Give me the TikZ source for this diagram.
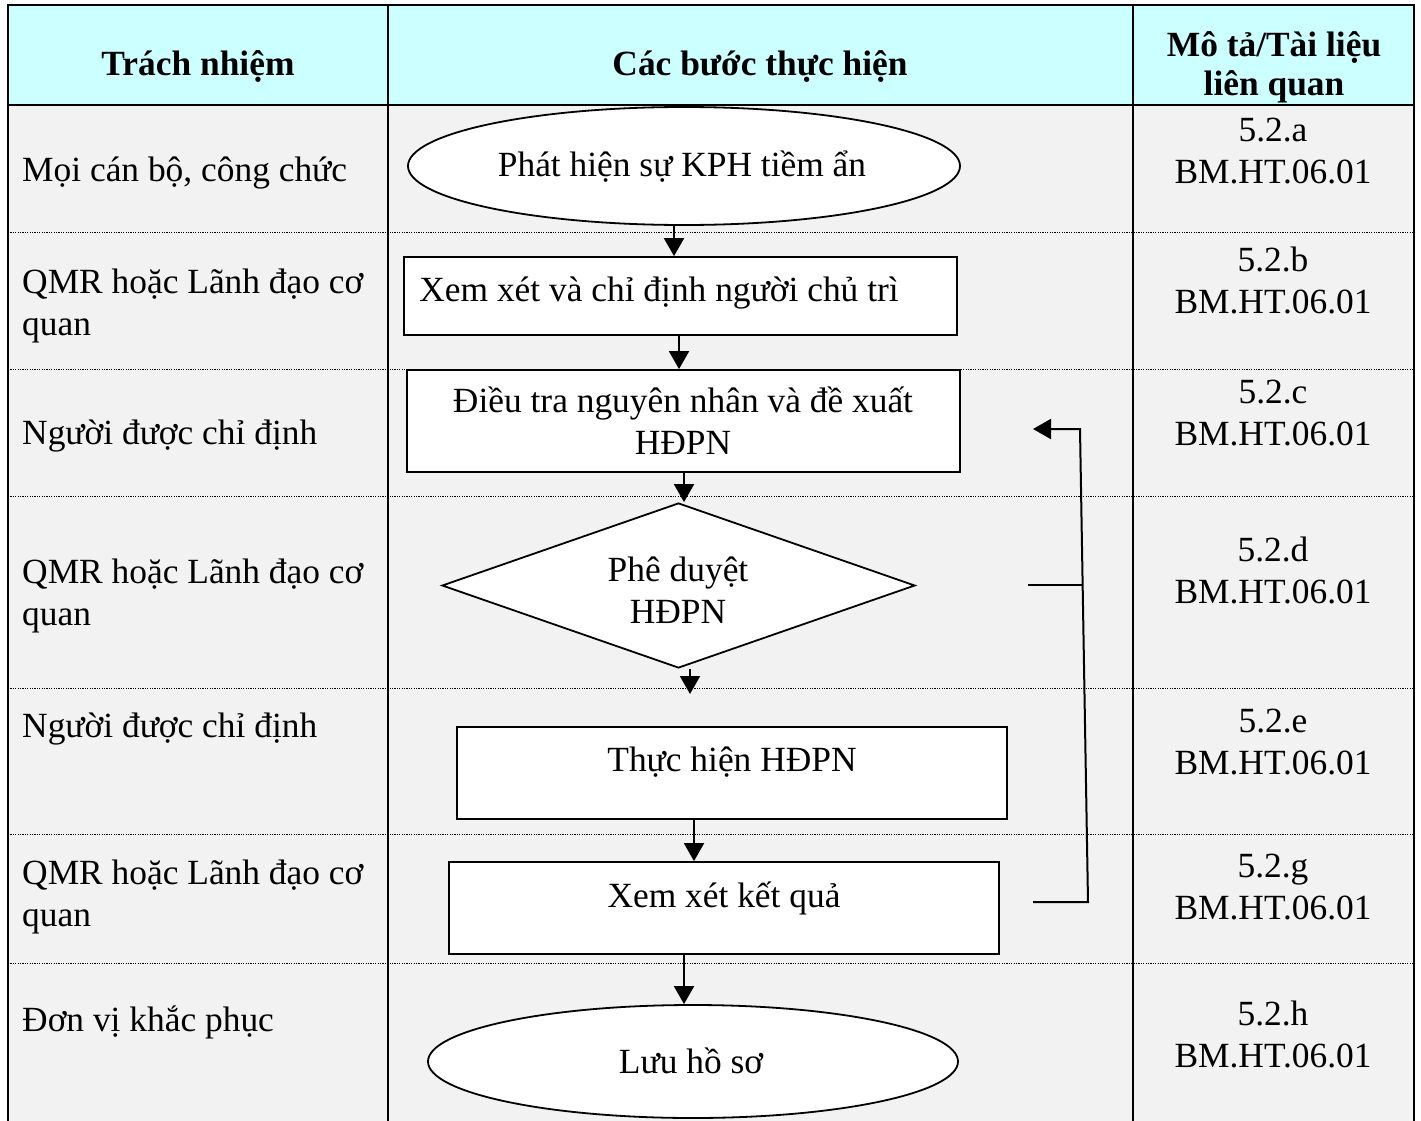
\documentclass[tikz,border=0pt]{standalone}
\usepackage{fontspec}
\setmainfont{Liberation Serif}
\usepackage{tikz}
\usetikzlibrary{arrows.meta,shapes.geometric}
\definecolor{headbg}{RGB}{204,255,255}
\definecolor{cellbg}{RGB}{242,242,242}

\begin{document}
\begin{tikzpicture}[x=1pt, y=-1pt,
  font=\fontsize{35.4}{42}\selectfont,
  rule/.style={line width=2.4pt},
  rowsep/.style={line width=1pt, dash pattern=on 1.2pt off 1.2pt},
  stepbox/.style={draw, line width=1.8pt, fill=white, rectangle, inner sep=0pt},
  terminal/.style={draw, line width=1.8pt, fill=white, ellipse, inner sep=0pt},
  decision/.style={draw, line width=1.8pt, fill=white, diamond, inner sep=0pt},
  flow/.style={line width=2pt, -{Triangle[length=18pt,width=20pt]}},
  head/.style={anchor=base, align=center, inner sep=0pt, font=\fontsize{35.4}{42}\selectfont\bfseries},
  who/.style={anchor=base west, align=left, inner sep=0pt},
  doc/.style={anchor=base, align=center, inner sep=0pt},
  txt/.style={anchor=base, align=center, inner sep=0pt},
]
\useasboundingbox (0,0) rectangle (1421,1121);
\fill[white] (0,0) rectangle (1421,1121);
\fill[headbg] (8,5) rectangle (1414,105);
\fill[cellbg] (8,105) rectangle (1414,1121);

\draw[rowsep] (8,232) -- (1414,232) (8,369) -- (1414,369) (8,496) -- (1414,496)
  (8,688) -- (1414,688) (8,834) -- (1414,834) (8,963) -- (1414,963);
\draw[rule] (8,1121) -- (8,5) -- (1414,5) -- (1414,1121);
\draw[rule] (8,105) -- (1414,105);
\draw[rule] (388,5) -- (388,1121) (1133,5) -- (1133,1121);

\node[head] (h1) at (198,76) {Trách nhiệm};
\node[head] (h2) at (760,76) {Các bước thực hiện};
\node[head] (h3) at (1274,96) {Mô tả/Tài liệu\\[-3pt]liên quan};

\node[who] (r1) at (22,181) {Mọi cán bộ, công chức};
\node[who] (r2) at (22,335) {QMR hoặc Lãnh đạo cơ\\quan};
\node[who] (r3) at (22,444) {Người được chỉ định};
\node[who] (r4) at (22,625) {QMR hoặc Lãnh đạo cơ\\quan};
\node[who] (r5) at (22,737) {Người được chỉ định};
\node[who] (r6) at (22,926) {QMR hoặc Lãnh đạo cơ\\quan};
\node[who] (r7) at (22,1031) {Đơn vị khắc phục};

\node[doc] (d1) at (1273,183) {5.2.a\\BM.HT.06.01};
\node[doc] (d2) at (1273,313) {5.2.b\\BM.HT.06.01};
\node[doc] (d3) at (1273,445) {5.2.c\\BM.HT.06.01};
\node[doc] (d4) at (1273,603) {5.2.d\\BM.HT.06.01};
\node[doc] (d5) at (1273,774) {5.2.e\\BM.HT.06.01};
\node[doc] (d6) at (1273,919) {5.2.g\\BM.HT.06.01};
\node[doc] (d7) at (1273,1067) {5.2.h\\BM.HT.06.01};

\node[terminal, minimum width=552, minimum height=118] (detect) at (684,166) {};
\node[stepbox, minimum width=553, minimum height=78] (review) at (680.5,296) {};
\node[stepbox, minimum width=553, minimum height=102] (investigate) at (683.5,421) {};
\node[decision, minimum width=473, minimum height=165] (approve) at (678.5,585.5) {};
\node[stepbox, minimum width=550, minimum height=92] (execute) at (732,773) {};
\node[stepbox, minimum width=550, minimum height=92] (check) at (724,908) {};
\node[terminal, minimum width=530, minimum height=113] (archive) at (693,1061.5) {};

\node[txt] (detect-t) at (682,176) {Phát hiện sự KPH tiềm ẩn};
\node[txt] (review-t) at (659,301) {Xem xét và chỉ định người chủ trì};
\node[txt] (investigate-t) at (683,454) {Điều tra nguyên nhân và đề xuất\\HĐPN};
\node[txt] (approve-t) at (678,623) {Phê duyệt\\HĐPN};
\node[txt] (execute-t) at (732,771) {Thực hiện HĐPN};
\node[txt] (check-t) at (724,907) {Xem xét kết quả};
\node[txt] (archive-t) at (691,1073) {Lưu hồ sơ};

\coordinate (below-approve) at (690,694);
\coordinate (fb1) at (1033,902);
\coordinate (fb2) at (1088,902);
\coordinate (fb3) at (1080,429);
\coordinate (fb4) at (1033,429);
\coordinate (fb5) at (1028,585);
\coordinate (fb6) at (1083,585);

\draw[flow] ([xshift=-10]detect.south) -- ([xshift=-6.5]review.north);
\draw[flow] ([xshift=-1.5]review.south) -- ([xshift=-4.5]investigate.north);
\draw[flow] ([xshift=0.5]investigate.south) -- ([xshift=5.5]approve.north);
\draw[flow] ([xshift=11.5]approve.south) -- (below-approve);
\draw[flow] ([xshift=-38]execute.south) -- ([xshift=-30]check.north);
\draw[flow] ([xshift=-40]check.south) -- ([xshift=-9]archive.north);
\draw[flow] (fb1) -- (fb2) -- (fb3) -- (fb4);
\draw[line width=2pt] (fb5) -- (fb6);
\end{tikzpicture}
\end{document}
